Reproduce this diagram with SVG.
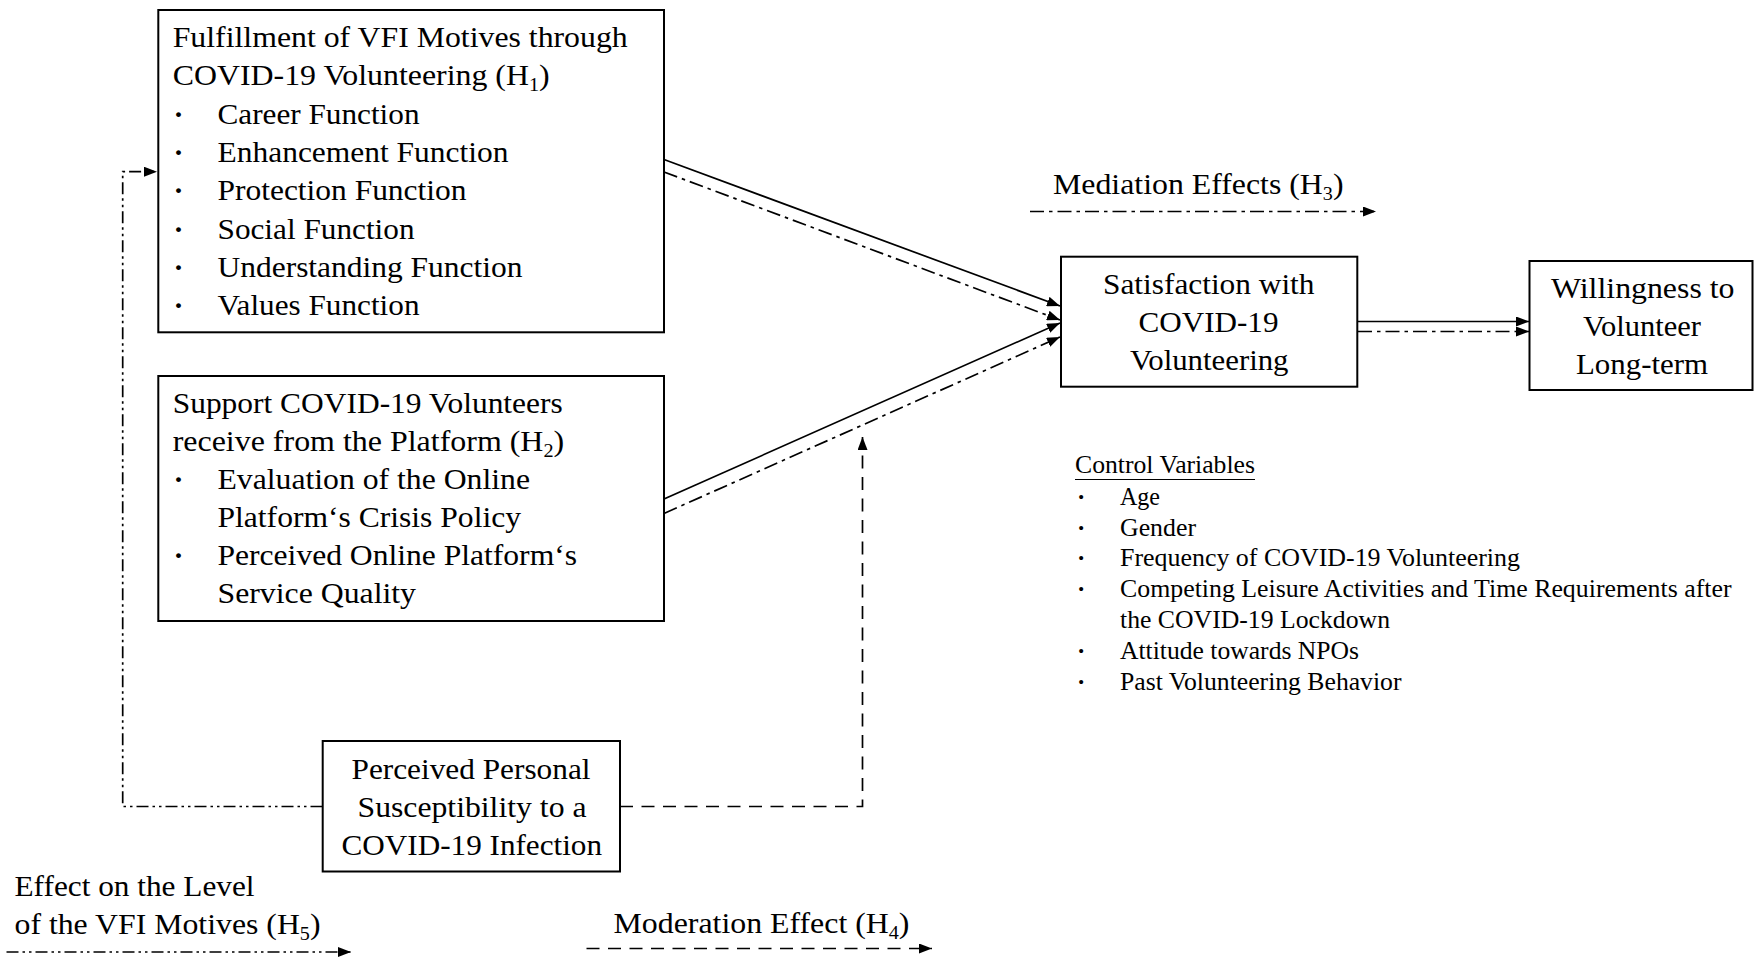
<svg xmlns="http://www.w3.org/2000/svg" width="1754" height="958" viewBox="0 0 1754 958">
<style>
.bg{fill:#fff}
.box{fill:#fff;stroke:#000;stroke-width:2}
.t{font-family:"Liberation Serif","Times New Roman",serif;font-size:30px;fill:#000}
.s{font-size:25px}
.sub{font-size:19px}
.b{font-weight:bold}
.ln{fill:none;stroke:#000;stroke-width:1.7}
.dd{stroke-dasharray:14 5 3.5 5}
.da{stroke-dasharray:13 8.5}
.ddd{stroke-dasharray:12 4 2.5 4 2.5 4}
</style>
<defs>
<marker id="arr" markerUnits="userSpaceOnUse" markerWidth="13" markerHeight="10" refX="13" refY="5" orient="auto">
<path d="M0,0 L13,5 L0,10 z" fill="#000"/>
</marker>
</defs>
<rect class="bg" x="0" y="0" width="1754" height="958"/>

<g id="connectors">
<line class="ln" x1="664" y1="159.5" x2="1060" y2="306" marker-end="url(#arr)"/>
<line class="ln dd" x1="664" y1="172" x2="1060" y2="320" marker-end="url(#arr)"/>
<line class="ln" x1="664" y1="499" x2="1060" y2="323" marker-end="url(#arr)"/>
<line class="ln dd" x1="664" y1="513.5" x2="1060" y2="337" marker-end="url(#arr)"/>
<line class="ln" x1="1358" y1="321.5" x2="1529" y2="321.5" marker-end="url(#arr)"/>
<line class="ln dd" x1="1358" y1="331.5" x2="1529" y2="331.5" marker-end="url(#arr)"/>
<path class="ln ddd" d="M322.5,806.5 H122.7 V171.7 H157" marker-end="url(#arr)"/>
<path class="ln da" d="M620,806.5 H862.5 V437" marker-end="url(#arr)"/>
</g>

<g id="node-vfi">
<rect class="box" x="158.3" y="10" width="505.7" height="322.3"/>
<text class="t" x="172.7" y="47" textLength="455" lengthAdjust="spacingAndGlyphs">Fulfillment of VFI Motives through</text>
<text class="t" x="172.7" y="85.3" textLength="377" lengthAdjust="spacingAndGlyphs">COVID-19 Volunteering (H<tspan class="sub" dy="6">1</tspan><tspan dy="-6">)</tspan></text>
<text class="t b" x="173.5" y="123.6">·</text>
<text class="t" x="217.5" y="123.6" textLength="202" lengthAdjust="spacingAndGlyphs">Career Function</text>
<text class="t b" x="173.5" y="162">·</text>
<text class="t" x="217.5" y="162" textLength="291" lengthAdjust="spacingAndGlyphs">Enhancement Function</text>
<text class="t b" x="173.5" y="200.3">·</text>
<text class="t" x="217.5" y="200.3" textLength="249" lengthAdjust="spacingAndGlyphs">Protection Function</text>
<text class="t b" x="173.5" y="238.6">·</text>
<text class="t" x="217.5" y="238.6" textLength="197" lengthAdjust="spacingAndGlyphs">Social Function</text>
<text class="t b" x="173.5" y="277">·</text>
<text class="t" x="217.5" y="277" textLength="305" lengthAdjust="spacingAndGlyphs">Understanding Function</text>
<text class="t b" x="173.5" y="315.3">·</text>
<text class="t" x="217.5" y="315.3" textLength="202" lengthAdjust="spacingAndGlyphs">Values Function</text>
</g>

<g id="node-support">
<rect class="box" x="158.3" y="376" width="505.7" height="245"/>
<text class="t" x="172.7" y="413" textLength="390" lengthAdjust="spacingAndGlyphs">Support COVID-19 Volunteers</text>
<text class="t" x="172.7" y="451" textLength="391.5" lengthAdjust="spacingAndGlyphs">receive from the Platform (H<tspan class="sub" dy="6">2</tspan><tspan dy="-6">)</tspan></text>
<text class="t b" x="173.5" y="489">·</text>
<text class="t" x="217.5" y="489" textLength="312.5" lengthAdjust="spacingAndGlyphs">Evaluation of the Online</text>
<text class="t" x="217.5" y="527" textLength="303.5" lengthAdjust="spacingAndGlyphs">Platform‘s Crisis Policy</text>
<text class="t b" x="173.5" y="565">·</text>
<text class="t" x="217.5" y="565" textLength="359.5" lengthAdjust="spacingAndGlyphs">Perceived Online Platform‘s</text>
<text class="t" x="217.5" y="603" textLength="198.5" lengthAdjust="spacingAndGlyphs">Service Quality</text>
</g>

<g id="node-satisfaction">
<rect class="box" x="1061" y="256.7" width="296.3" height="130"/>
<text class="t" x="1103" y="294" textLength="211.5" lengthAdjust="spacingAndGlyphs">Satisfaction with</text>
<text class="t" x="1138.5" y="332" textLength="140" lengthAdjust="spacingAndGlyphs">COVID-19</text>
<text class="t" x="1130" y="370" textLength="158.5" lengthAdjust="spacingAndGlyphs">Volunteering</text>
</g>

<g id="node-willingness">
<rect class="box" x="1529.5" y="261" width="223" height="129"/>
<text class="t" x="1551" y="297.5" textLength="183.5" lengthAdjust="spacingAndGlyphs">Willingness to</text>
<text class="t" x="1583" y="335.8" textLength="118" lengthAdjust="spacingAndGlyphs">Volunteer</text>
<text class="t" x="1576" y="374" textLength="132" lengthAdjust="spacingAndGlyphs">Long-term</text>
</g>

<g id="node-susceptibility">
<rect class="box" x="322.7" y="741" width="297.3" height="130.5"/>
<text class="t" x="351.5" y="778.5" textLength="239" lengthAdjust="spacingAndGlyphs">Perceived Personal</text>
<text class="t" x="357.5" y="816.5" textLength="229" lengthAdjust="spacingAndGlyphs">Susceptibility to a</text>
<text class="t" x="341.5" y="854.5" textLength="260.5" lengthAdjust="spacingAndGlyphs">COVID-19 Infection</text>
</g>

<g id="control-variables">
<text class="t s" x="1075" y="473" textLength="180" lengthAdjust="spacingAndGlyphs">Control Variables</text>
<line x1="1075" y1="479.5" x2="1255" y2="479.5" stroke="#000" stroke-width="1.2"/>
<text class="t s b" x="1077" y="505">·</text>
<text class="t s" x="1120" y="505" textLength="40" lengthAdjust="spacingAndGlyphs">Age</text>
<text class="t s b" x="1077" y="535.5">·</text>
<text class="t s" x="1120" y="535.5" textLength="76" lengthAdjust="spacingAndGlyphs">Gender</text>
<text class="t s b" x="1077" y="566">·</text>
<text class="t s" x="1120" y="566" textLength="400" lengthAdjust="spacingAndGlyphs">Frequency of COVID-19 Volunteering</text>
<text class="t s b" x="1077" y="597">·</text>
<text class="t s" x="1120" y="597" textLength="611.5" lengthAdjust="spacingAndGlyphs">Competing Leisure Activities and Time Requirements after</text>
<text class="t s" x="1120" y="628" textLength="270" lengthAdjust="spacingAndGlyphs">the COVID-19 Lockdown</text>
<text class="t s b" x="1077" y="659">·</text>
<text class="t s" x="1120" y="659" textLength="239" lengthAdjust="spacingAndGlyphs">Attitude towards NPOs</text>
<text class="t s b" x="1077" y="690">·</text>
<text class="t s" x="1120" y="690" textLength="281.5" lengthAdjust="spacingAndGlyphs">Past Volunteering Behavior</text>
</g>

<g id="legend-mediation">
<text class="t" x="1053" y="194" textLength="290.5" lengthAdjust="spacingAndGlyphs">Mediation Effects (H<tspan class="sub" dy="6">3</tspan><tspan dy="-6">)</tspan></text>
<line class="ln dd" x1="1030" y1="211.5" x2="1376" y2="211.5" marker-end="url(#arr)"/>
</g>

<g id="legend-h5">
<text class="t" x="14.5" y="896" textLength="240" lengthAdjust="spacingAndGlyphs">Effect on the Level</text>
<text class="t" x="14.5" y="934" textLength="306" lengthAdjust="spacingAndGlyphs">of the VFI Motives (H<tspan class="sub" dy="6">5</tspan><tspan dy="-6">)</tspan></text>
<line class="ln ddd" x1="6.5" y1="952" x2="351" y2="952" marker-end="url(#arr)"/>
</g>

<g id="legend-h4">
<text class="t" x="613.5" y="933" textLength="296" lengthAdjust="spacingAndGlyphs">Moderation Effect (H<tspan class="sub" dy="6">4</tspan><tspan dy="-6">)</tspan></text>
<line class="ln da" x1="586.5" y1="948.5" x2="932" y2="948.5" marker-end="url(#arr)"/>
</g>
</svg>
